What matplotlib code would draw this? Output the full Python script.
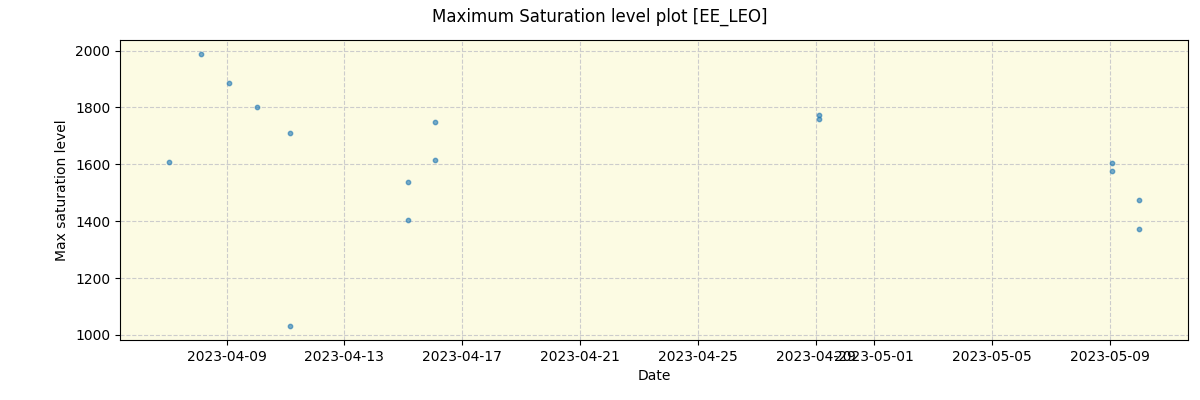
import pandas as pd
import matplotlib
matplotlib.use('Agg')
import matplotlib.pyplot as plt

obs_times = [
    '2023-04-07 00:45', '2023-04-08 03:00', '2023-04-09 01:40', '2023-04-10 01:10',
    '2023-04-11 03:20', '2023-04-11 04:00', '2023-04-15 03:40', '2023-04-15 03:40',
    '2023-04-16 01:40', '2023-04-16 01:40', '2023-04-29 02:40', '2023-04-29 02:40',
    '2023-05-09 01:40', '2023-05-09 01:40', '2023-05-10 00:00', '2023-05-10 00:00',
]
max_sat = [1608, 1989, 1887, 1802, 1711, 1030, 1538, 1404,
           1750, 1615, 1774, 1760, 1605, 1577, 1474, 1372]

dates = pd.to_datetime(obs_times)

fig, ax = plt.subplots(figsize=(12, 4), dpi=100)
fig.subplots_adjust(left=0.1, right=0.99, top=0.9, bottom=0.15)
ax.set_facecolor('#fcfbe3')

ax.scatter(dates, max_sat, s=10, color='tab:blue', alpha=0.6, zorder=3)
ax.grid(True, linestyle='--', color='#cccccc', linewidth=0.8)
ax.set_axisbelow(True)

ax.set_xlabel('Date')
ax.set_ylabel('Max saturation level')
fig.suptitle('Maximum Saturation level plot [EE_LEO]')

plt.savefig('out.png', dpi=100)
